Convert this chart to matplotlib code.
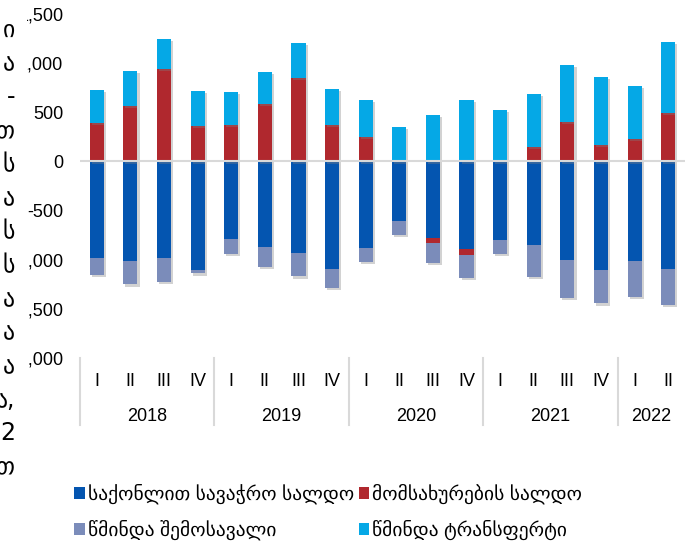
import numpy as np
import matplotlib
matplotlib.use("Agg")
import matplotlib.pyplot as plt
from matplotlib.patches import Patch, Rectangle
from matplotlib import patheffects as pe
import matplotlib.transforms as mtransforms
from matplotlib.ticker import FuncFormatter

plt.rcParams['font.family'] = ['Liberation Sans', 'DejaVu Sans']

# ---------------- data ----------------
years = ["2018", "2019", "2020", "2021", "2022"]
quarters_per_year = [4, 4, 4, 4, 2]
quarters = ["I", "II", "III", "IV", "I", "II", "III", "IV", "I", "II", "III", "IV",
            "I", "II", "III", "IV", "I", "II"]

goods = [-978, -1008, -978, -1103, -785, -869, -933, -1092, -876, -602, -780, -886,
         -795, -852, -1004, -1100, -1018, -1092]
services = [388, 561, 937, 361, 371, 581, 849, 371, 246, 0, -45, -68,
            0, 144, 398, 168, 226, 490]
income = [-176, -244, -247, -37, -156, -203, -237, -193, -148, -147, -206, -228,
          -149, -322, -384, -345, -359, -366]
transfers = [339, 356, 311, 359, 335, 332, 352, 363, 376, 348, 476, 628,
             520, 545, 580, 688, 538, 726]

series_names = ["საქონლით სავაჭრო სალდო", "მომსახურების სალდო",
                "წმინდა შემოსავალი", "წმინდა ტრანსფერტი"]
series_vals = [goods, services, income, transfers]
series_colors = ["#0455B0", "#B0282E", "#7B8CBA", "#05A8E6"]

yticks = [-2000, -1500, -1000, -500, 0, 500, 1000, 1500]

# text block to the left of the chart on the source page (only line endings visible)
left_text_lines = ["ი", "ა", "-", "თ", "ს", "ა", "ს", "ს", "ა", "ა", "ა", "ა,", "2", "თ"]

# ---------------- figure ----------------
W, H = 686, 544
fig = plt.figure(figsize=(W / 100, H / 100), dpi=100)
ax = fig.add_axes([80 / W, 1 - 358 / H, 605 / W, 344 / H])

x = np.arange(len(quarters))
pos_base = np.zeros(len(x))
neg_base = np.zeros(len(x))
shadow = [pe.SimplePatchShadow(offset=(1.5, -1.5), shadow_rgbFace="#808080", alpha=0.35), pe.Normal()]
handles = []
for name, vals, col in zip(series_names, series_vals, series_colors):
    v = np.array(vals, dtype=float)
    bottom = np.where(v >= 0, pos_base, neg_base)
    bars = ax.bar(x, v, width=0.42, bottom=bottom, color=col, zorder=2, linewidth=0)
    for b in bars:
        b.set_path_effects(shadow)
    pos_base = pos_base + np.where(v >= 0, v, 0)
    neg_base = neg_base + np.where(v < 0, v, 0)
    handles.append(Patch(facecolor=col, label=name))

ax.axhline(0, color="#D9D9D9", lw=1.5, zorder=3)

ax.set_xlim(-0.5, len(x) - 0.5)
ax.set_ylim(-2000, 1500)
ax.set_yticks(yticks)
ax.yaxis.set_major_formatter(FuncFormatter(lambda v, p: f"{v:,.0f}"))
ax.tick_params(axis="y", length=0, pad=12, labelsize=13, labelcolor="#000000")
ax.set_xticks(x, quarters)
ax.tick_params(axis="x", length=0, pad=11, labelsize=13)
for s in ax.spines.values():
    s.set_visible(False)

# multi-level category axis
trans = mtransforms.blended_transform_factory(ax.transData, ax.transAxes)
start = 0
seps = [-0.5]
for yr, n in zip(years, quarters_per_year):
    center = start + (n - 1) / 2
    ax.text(center, -0.17, yr, transform=trans, ha="center", va="center", fontsize=13)
    start += n
    seps.append(start - 0.5)
for sx in seps[:-1]:
    ax.plot([sx, sx], [0, -0.195], transform=trans, color="#D9D9D9", lw=1.5, clip_on=False)

# legend (column-first fill: goods, income | services, transfers)
order = [0, 2, 1, 3]
leg = fig.legend([handles[i] for i in order], [series_names[i] for i in order],
                 loc="center left", bbox_to_anchor=(74 / W, 1 - 512 / H), ncol=2,
                 frameon=False, fontsize=14, handlelength=0.55, handleheight=0.55,
                 handletextpad=0.15, columnspacing=0.25, labelspacing=0.8,
                 borderaxespad=0, borderpad=0)

# cover strip on the left (the neighbouring text block of the source page overlaps the chart)
fig.patches.append(Rectangle((0, 0), 27 / W, 1, transform=fig.transFigure,
                             facecolor="white", edgecolor="none", zorder=5))
for i, t in enumerate(left_text_lines):
    fig.text(15 / W, 1 - (30 + i * 33.6) / H, t, ha="right", va="center",
             fontsize=17, family=["DejaVu Sans"], zorder=6)

fig.savefig("out.png", dpi=100, facecolor="white")
